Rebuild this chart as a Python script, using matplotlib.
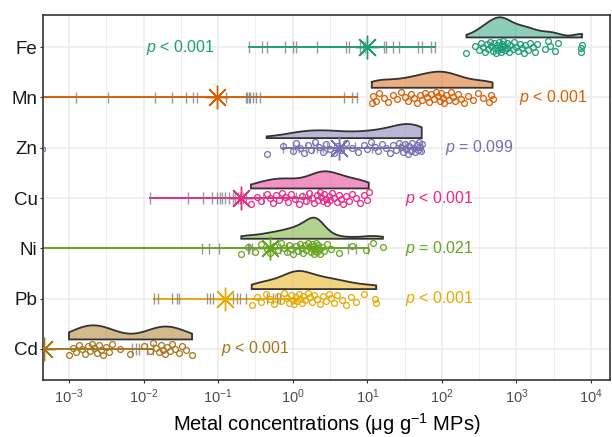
import numpy as np
import matplotlib
matplotlib.use("Agg")
import matplotlib.pyplot as plt

plt.rcParams['font.family'] = ['Liberation Sans', 'DejaVu Sans']
plt.rcParams['mathtext.fontset'] = 'custom'
plt.rcParams['mathtext.rm'] = 'Liberation Sans'
plt.rcParams['mathtext.it'] = 'Liberation Sans:italic'

metals = ['Fe', 'Mn', 'Zn', 'Cu', 'Ni', 'Pb', 'Cd']
colors = ['#1B9E77', '#D95F02', '#7570B3', '#E7298A', '#66A61E', '#E6AB02', '#A6761D']

# measured concentrations in MPs (log10 ug/g)
fe_log = [2.33, 2.45, 2.5, 2.52, 2.55, 2.58, 2.6, 2.62, 2.64, 2.66, 2.68, 2.7, 2.71, 2.72,
          2.74, 2.75, 2.76, 2.78, 2.79, 2.8, 2.81, 2.82, 2.84, 2.85, 2.87, 2.88, 2.9, 2.92,
          2.95, 2.97, 3.0, 3.02, 3.05, 3.08, 3.1, 3.12, 3.15, 3.18, 3.22, 3.25, 3.28, 3.38,
          3.42, 3.45, 3.52, 3.56, 3.86, 3.87, 3.88]
mn_log = [1.06, 1.08, 1.12, 1.16, 1.22, 1.28, 1.34, 1.4, 1.45, 1.5, 1.55, 1.59, 1.63, 1.67,
          1.71, 1.74, 1.77, 1.8, 1.83, 1.86, 1.89, 1.92, 1.95, 1.97, 1.99, 2.01, 2.03, 2.06,
          2.09, 2.12, 2.15, 2.18, 2.22, 2.26, 2.3, 2.35, 2.42, 2.48, 2.55, 2.63, 2.66, 2.68]
zn_log = [-0.35, -0.13, 0.0, 0.05, 0.1, 0.15, 0.2, 0.25, 0.3, 0.35, 0.4, 0.45, 0.5, 0.55,
          0.6, 0.65, 0.72, 0.8, 0.88, 0.95, 1.0, 1.05, 1.1, 1.15, 1.2, 1.25, 1.3, 1.34, 1.38,
          1.42, 1.45, 1.48, 1.5, 1.52, 1.54, 1.56, 1.58, 1.6, 1.62, 1.64, 1.66, 1.68, 1.7,
          1.71, 1.72, 1.73]
cu_log = [-0.56, -0.48, -0.42, -0.35, -0.3, -0.26, -0.22, -0.18, -0.14, -0.1, -0.06,
          -0.02, 0.03, 0.08, 0.13, 0.18, 0.22, 0.26, 0.29, 0.32, 0.34, 0.36, 0.38, 0.4,
          0.42, 0.44, 0.46, 0.48, 0.5, 0.53, 0.56, 0.59, 0.62, 0.65, 0.68, 0.72, 0.76, 0.8,
          0.85, 0.9, 0.95, 1.0, 1.02]
ni_log = [-0.69, -0.6, -0.5, -0.42, -0.35, -0.3, -0.25, -0.2, -0.16, -0.12, -0.08, -0.05,
          -0.02, 0.01, 0.04, 0.07, 0.1, 0.12, 0.14, 0.16, 0.18, 0.2, 0.22, 0.24, 0.26, 0.27,
          0.28, 0.29, 0.3, 0.31, 0.32, 0.33, 0.34, 0.35, 0.37, 0.39, 0.42, 0.46, 0.52, 0.62,
          0.8, 0.98, 1.08, 1.21]
pb_log = [-0.55, -0.48, -0.42, -0.36, -0.3, -0.25, -0.2, -0.16, -0.12, -0.08, -0.05,
          -0.02, 0.0, 0.02, 0.04, 0.06, 0.08, 0.1, 0.12, 0.14, 0.17, 0.2, 0.23, 0.26, 0.29,
          0.32, 0.36, 0.4, 0.44, 0.48, 0.52, 0.56, 0.6, 0.66, 0.72, 0.78, 0.85, 0.95, 1.1, 1.12]
cd_log = [-3.0, -2.95, -2.9, -2.86, -2.82, -2.78, -2.75, -2.72, -2.69, -2.66, -2.63, -2.6,
          -2.57, -2.54, -2.5, -2.46, -2.42, -2.32, -2.18, -2.0, -1.92, -1.88, -1.84,
          -1.8, -1.77, -1.74, -1.71, -1.68, -1.65, -1.62, -1.58, -1.53, -1.48, -1.43, -1.35]
zn_outlier_log = [-3.36]

# reference (literature) values, log10, and their central value (star)
fe_ref = [-0.59, -0.41, -0.35, -0.10, 0.00, 0.05, 0.33, 0.71, 0.75, 0.90, 0.94, 0.97,
          1.22, 1.25, 1.34, 1.43, 1.68, 1.73, 1.85, 1.91]
mn_ref = [-4.0, -2.91, -2.48, -1.85, -1.62, -1.43, -1.34, -1.29, -0.90, -0.63, -0.61,
          -0.59, -0.57, -0.53, -0.49, -0.44, 0.69, 0.80, 0.86]
zn_ref = [-0.13, 0.0, 0.09, 0.18, 0.27, 0.33, 0.40, 0.46, 0.63, 0.67, 0.83, 1.06, 1.44,
          1.50, 1.53, 1.73]
cu_ref = [-1.91, -1.41, -1.20, -1.08, -1.02, -0.98, -0.95, -0.91, -0.85, -0.80, -0.77,
          -0.74, -0.71, -0.67, -0.62, -0.40, 0.05, 0.14, 0.19, 0.24]
ni_ref = [-4.0, -1.21, -1.12, -0.99, -0.60, -0.58, -0.54, -0.27, -0.17, -0.08, 0.0, 0.09,
          0.74, 0.85, 1.01]
pb_ref = [-1.86, -1.81, -1.62, -1.55, -1.52, -1.15, -1.11, -1.07, -0.80, -0.75, -0.71,
          -0.62, -0.35, -0.26, -0.21, -0.17, 0.02]
cd_ref = [-4.5, -4.2, -3.9, -2.15, -2.10, -2.06, -1.96, -1.88]
ref_center = [1.0, -1.01, 0.62, -0.69, -0.31, -0.91, -3.33]

p_labels = ['$p$ < 0.001', '$p$ < 0.001', '$p$ = 0.099', '$p$ < 0.001', '$p$ = 0.021',
            '$p$ < 0.001', '$p$ < 0.001']
p_xlog = [-1.50, 3.49, 2.50, 1.97, 1.97, 1.97, -0.50]

data = [fe_log, mn_log, zn_log, cu_log, ni_log, pb_log, cd_log]
refs = [fe_ref, mn_ref, zn_ref, cu_ref, ni_ref, pb_ref, cd_ref]
extra = {'Zn': zn_outlier_log}

# peak height of each half-violin, in row units
slab_height = [0.40, 0.32, 0.28, 0.34, 0.42, 0.36, 0.28]

fig = plt.figure(figsize=(6.12, 4.37), dpi=100)
ax = fig.add_axes([43 / 612, 57 / 437, 567 / 612, 365 / 437])
ax.set_xscale('log')

n = len(metals)
ypos = {m: n - i for i, m in enumerate(metals)}


def kde(vals, grid, bw):
    v = np.asarray(vals)[:, None]
    return np.exp(-0.5 * ((grid[None, :] - v) / bw) ** 2).sum(0) / (len(vals) * bw * np.sqrt(2 * np.pi))


for i, m in enumerate(metals):
    y0 = ypos[m]
    c = colors[i]
    r = np.asarray(refs[i])
    ax.plot(10 ** np.array([r.min(), r.max()]), [y0, y0], color=c, lw=1.4, zorder=2)
    ax.vlines(10 ** r, y0 - 0.11, y0 + 0.11, color='#808080', lw=1, alpha=0.8, zorder=3)

    vals = np.asarray(data[i])
    g = np.linspace(vals.min(), vals.max(), 200)
    sd = vals.std(ddof=1)
    iqr = np.subtract(*np.percentile(vals, [75, 25]))
    bw = 0.8 * 0.9 * min(sd, iqr / 1.34) * len(vals) ** -0.2
    d = kde(vals, g, bw)
    d = d / d.max() * slab_height[i]
    base = y0 + 0.19
    xs = np.concatenate([g, g[::-1]])
    ys = np.concatenate([base + d, np.full(len(g), base)])
    ax.fill(10 ** xs, ys, facecolor=c, alpha=0.5, edgecolor='none', zorder=4)
    ax.fill(10 ** xs, ys, facecolor='none', edgecolor='#333333', lw=1.3, zorder=5)

    pts = np.asarray(data[i] + extra.get(m, []))
    jit = ((np.arange(len(pts)) * 0.618034) % 1.0) * 2 - 1
    ax.plot(10 ** pts, y0 + jit * 0.12, 'o', mfc='none', mec=c, mew=0.9, ms=4.2, zorder=6)

    ax.plot(10 ** ref_center[i], y0, marker=(8, 2, 0), ms=17, mec=c, mew=1.0, zorder=7)
    ax.text(10 ** p_xlog[i], y0, p_labels[i], color=c, fontsize=11.5, ha='center', va='center', zorder=8)

ax.set_yticks([ypos[m] for m in metals])
ax.set_yticklabels(metals, fontsize=13.5, color='#1A1A1A')
ax.set_xticks([10.0 ** k for k in range(-3, 5)])
ax.set_xticks([10.0 ** (k + 0.5) for k in range(-4, 5)], minor=True)
ax.xaxis.set_minor_formatter(matplotlib.ticker.NullFormatter())
# limits after the ticks, since set_xticks widens the view
ax.set_xlim(10 ** -3.349, 10 ** 4.255)
ax.set_ylim(0.384, 7.636)
ax.tick_params(axis='x', which='major', labelsize=10.5, labelcolor='#4D4D4D', color='#333333',
               length=2.5, width=0.8, pad=2.5)
ax.tick_params(axis='x', which='minor', length=0)
ax.tick_params(axis='y', labelcolor='#1A1A1A', color='#333333', length=2.5, width=0.8, pad=1.5)
ax.grid(True, which='major', color='#EBEBEB', lw=1.1, zorder=0)
ax.grid(True, which='minor', axis='x', color='#EBEBEB', lw=0.55, zorder=0)
ax.set_axisbelow(True)
for s in ax.spines.values():
    s.set_color('#333333')
    s.set_linewidth(1.2)
ax.set_xlabel('Metal concentrations (\u03bcg g$^{-1}$ MPs)', fontsize=14.5, color='#000000', labelpad=4)

fig.savefig('out.png', dpi=100)
